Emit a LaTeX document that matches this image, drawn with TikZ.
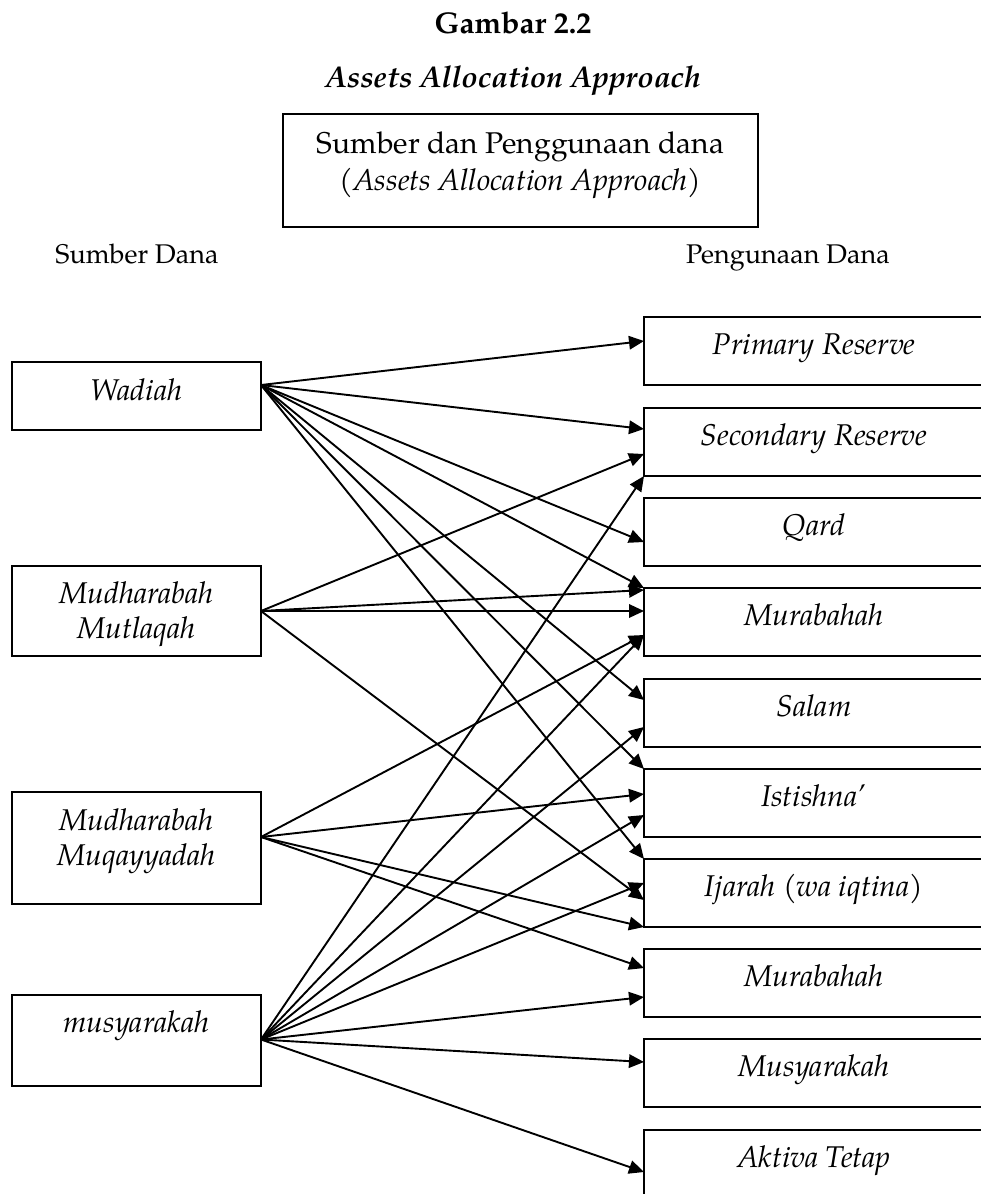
\documentclass[tikz,border=0pt]{standalone}
\usepackage{fontspec}
\setmainfont{TeX Gyre Pagella}
\usetikzlibrary{arrows.meta}
% two centred lines whose baseline is the first line's baseline
\newcommand\twoline[2]{\begin{tabular}[t]{@{}c@{}}#1\\#2\end{tabular}}
\begin{document}
\fontsize{30}{35}\selectfont
\begin{tikzpicture}[x=1pt,y=1pt,
  box/.style={draw, line width=2pt, inner sep=0pt, outer sep=0pt, anchor=north west},
  srcbox/.style={box, minimum width=249pt, font=\itshape},
  usebox/.style={box, minimum width=340pt, minimum height=68pt,
                 text height=18pt, text depth=11pt, font=\itshape},
  flow/.style={line width=1.9pt, -{Triangle[length=15pt,width=13.5pt]}},
  side/.style={anchor=base, font=\fontsize{27}{32}\selectfont}
]
\useasboundingbox (0,0) rectangle (981,-1194);
\clip (0,0) rectangle (981,-1194);

% heading
\node[anchor=base, font=\bfseries] (title) at (513,-33) {Gambar 2.2};
\node[anchor=base, font=\bfseries\itshape] (subtitle) at (513,-87) {Assets Allocation Approach};

% central box
\node[box, minimum width=475pt, minimum height=113pt, text height=10pt, text depth=45pt] (sdp)
  at (283,-114)
  {\begin{tabular}[t]{@{}c@{}}Sumber dan Penggunaan dana\\[2pt]\textit{(Assets Allocation Approach)}\end{tabular}};

% column headings
\node[side] (lsrc) at (137,-263) {Sumber Dana};
\node[side] (luse) at (788,-263) {Pengunaan Dana};

% sources of funds
\node[srcbox, minimum height=68pt, text height=18pt, text depth=10pt] (wad) at (12,-362) {Wadiah};
\node[srcbox, minimum height=90pt, text height=10pt, text depth=26pt] (mut) at (12,-566) {\twoline{Mudharabah}{Mutlaqah}};
\node[srcbox, minimum height=112pt, text height=10pt, text depth=46pt] (muq) at (12,-792) {\twoline{Mudharabah}{Muqayyadah}};
\node[srcbox, minimum height=91pt, text height=10pt, text depth=27pt] (mus) at (12,-995) {musyarakah};

% uses of funds
\node[usebox] (pr)  at (644,-317)  {Primary Reserve};
\node[usebox] (sr)  at (644,-408)  {Secondary Reserve};
\node[usebox] (qd)  at (644,-498)  {Qard};
\node[usebox] (mb)  at (644,-588)  {Murabahah};
\node[usebox] (sl)  at (644,-679)  {Salam};
\node[usebox] (is)  at (644,-769)  {Istishna’};
\node[usebox] (ij)  at (644,-859)  {Ijarah (wa iqtina)};
\node[usebox] (mb2) at (644,-949)  {Murabahah};
\node[usebox] (ms)  at (644,-1039) {Musyarakah};
\node[usebox] (ak)  at (644,-1130) {Aktiva Tetap};

% start points of the flows
\coordinate (wS) at ([yshift=11pt]wad.east);
\coordinate (mS) at (mut.east);
\coordinate (qS) at ([yshift=11pt]muq.east);
\coordinate (sS) at ([yshift=1pt]mus.east);

% flows: target box / drop below its top edge
\foreach \t/\d in {pr/24, sr/21, qd/44, mb/0, sl/21, is/0, ij/0}
  \draw[flow] (wS) -- ([yshift=-\d]\t.north west);
\foreach \t/\d in {sr/46, mb/2, mb/23, ij/41}
  \draw[flow] (mS) -- ([yshift=-\d]\t.north west);
\foreach \t/\d in {mb/47, is/25, ij/68, mb2/19}
  \draw[flow] (qS) -- ([yshift=-\d]\t.north west);
\foreach \t/\d in {sr/68, mb/47, sl/48, is/46, ij/24, mb2/48, ms/23, ak/42}
  \draw[flow] (sS) -- ([yshift=-\d]\t.north west);
\end{tikzpicture}
\end{document}
